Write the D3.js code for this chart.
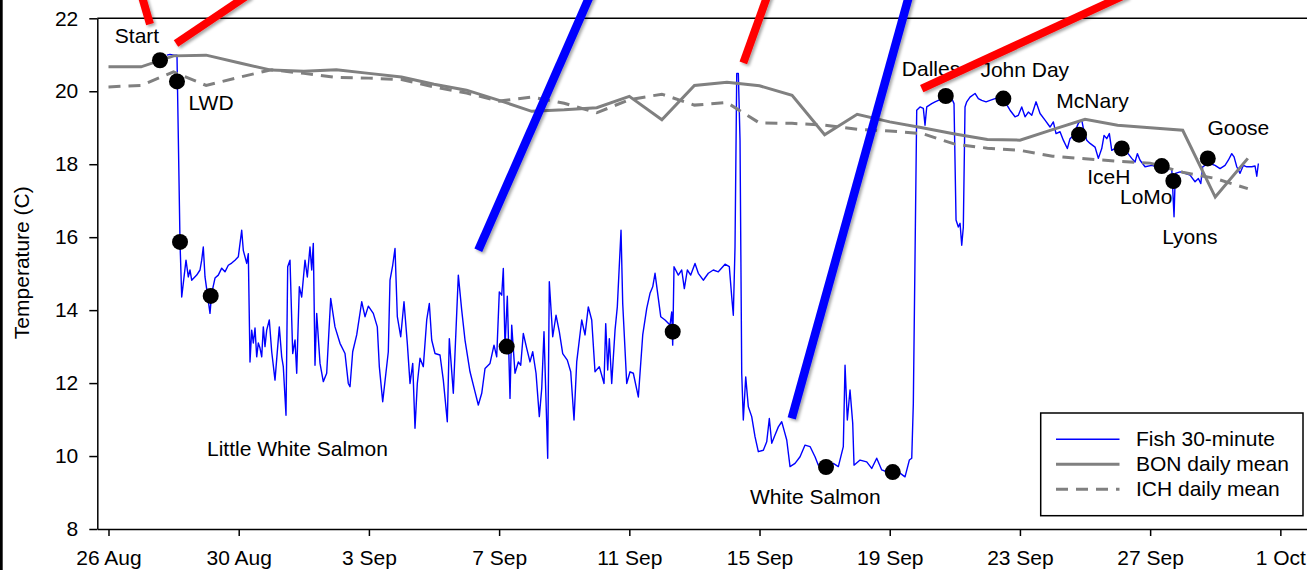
<!DOCTYPE html>
<html><head><meta charset="utf-8">
<script src="https://cdn.jsdelivr.net/npm/d3@7"></script>
<style>
body{margin:0;background:#fff;}
svg{display:block;}
text{font-family:"Liberation Sans",Arial,Helvetica,sans-serif;fill:#000;}
</style>
</head><body>
<svg id="chart" width="1307" height="570"></svg>
<script>
// ---------- DATA ----------
const dailyDates = ["2009-08-26","2009-08-27","2009-08-28","2009-08-29","2009-08-30","2009-08-31",
 "2009-09-01","2009-09-02","2009-09-03","2009-09-04","2009-09-05","2009-09-06","2009-09-07","2009-09-08",
 "2009-09-09","2009-09-10","2009-09-11","2009-09-12","2009-09-13","2009-09-14","2009-09-15","2009-09-16",
 "2009-09-17","2009-09-18","2009-09-19","2009-09-20","2009-09-21","2009-09-22","2009-09-23","2009-09-24",
 "2009-09-25","2009-09-26","2009-09-27","2009-09-28","2009-09-29","2009-09-30"];
const bonDaily = [20.67,20.67,20.97,20.99,20.78,20.58,20.55,20.59,20.49,20.39,20.19,20.03,19.75,19.45,19.49,19.55,
 19.86,19.22,20.16,20.25,20.15,19.89,18.81,19.37,19.16,19.00,18.83,18.68,18.66,18.95,19.23,19.07,19.00,18.93,17.10,18.16];
const ichDaily = [20.12,20.16,20.53,20.16,20.38,20.59,20.49,20.38,20.36,20.32,20.12,19.95,19.73,19.84,19.67,19.41,
 19.77,19.92,19.62,19.69,19.13,19.12,19.07,18.96,18.91,18.84,18.55,18.44,18.38,18.22,18.15,18.08,18.03,17.78,17.61,17.33];

// fish record: days since 26 Aug 00:00, temperature (C)
const fishDays = [1.797,1.889,2.012,2.104,2.197,2.249,2.381,2.452,2.504,2.556,2.710,2.811,2.863,2.912,2.965,3.035,3.118,3.170,3.272,3.373,
 3.478,3.579,3.680,3.785,3.886,3.988,4.092,4.141,4.246,4.295,4.347,4.399,4.449,4.501,4.553,4.602,4.654,4.707,4.756,4.808,
 4.860,4.940,5.014,5.115,5.247,5.321,5.370,5.453,5.505,5.576,5.659,5.730,5.782,5.862,5.935,6.037,6.108,6.190,6.243,6.292,
 6.344,6.396,6.498,6.599,6.703,6.826,6.958,7.112,7.266,7.367,7.419,7.502,7.625,7.779,7.880,7.982,8.135,8.258,8.320,8.424,
 8.596,8.648,8.731,8.802,8.873,8.977,9.078,9.180,9.263,9.346,9.416,9.487,9.570,9.671,9.776,9.856,9.929,10.031,10.184,10.286,
 10.408,10.470,10.593,10.747,10.851,10.952,11.106,11.260,11.361,11.466,11.567,11.720,11.843,11.926,12.006,12.080,12.129,12.181,12.252,12.335,
 12.387,12.488,12.590,12.664,12.743,12.848,12.949,13.032,13.134,13.235,13.309,13.379,13.493,13.542,13.647,13.748,13.849,13.954,14.095,14.200,
 14.301,14.384,14.538,14.639,14.740,14.845,14.946,15.078,15.223,15.275,15.336,15.386,15.459,15.561,15.631,15.745,15.797,15.920,16.022,16.123,
 16.277,16.412,16.535,16.636,16.719,16.790,16.891,16.965,17.097,17.250,17.303,17.333,17.373,17.505,17.610,17.690,17.782,17.886,18.018,18.120,
 18.273,18.427,18.580,18.734,18.940,19.072,19.146,19.195,19.247,19.300,19.349,19.401,19.453,19.502,19.576,19.656,19.760,19.861,19.963,20.117,
 20.221,20.301,20.375,20.476,20.578,20.682,20.753,20.836,20.937,21.091,21.245,21.398,21.552,21.705,21.807,22.065,22.267,22.421,22.574,22.627,
 22.697,22.780,22.863,22.903,23.088,23.293,23.447,23.600,23.754,23.908,24.111,24.316,24.470,24.602,24.676,24.725,24.777,24.829,24.931,25.032,
 25.084,25.137,25.290,25.392,25.545,25.751,25.905,25.975,26.037,26.108,26.160,26.212,26.261,26.313,26.366,26.467,26.621,26.722,26.827,26.959,
 27.081,27.235,27.389,27.542,27.696,27.849,27.951,28.055,28.157,28.258,28.363,28.495,28.618,28.771,28.925,29.026,29.109,29.232,29.333,29.456,
 29.539,29.640,29.794,29.899,29.969,30.052,30.154,30.307,30.409,30.513,30.584,30.667,30.747,30.820,30.922,31.075,31.281,31.435,31.536,31.607,
 31.690,31.843,32.049,32.203,32.357,32.510,32.664,32.734,32.774,32.919,33.072,33.226,33.380,33.481,33.555,33.616,33.687,33.840,33.994,34.147,
 34.301,34.402,34.507,34.578,34.661,34.762,34.864,34.968,35.122,35.223,35.276,35.325];
const fishTemps = [20.99,21.01,20.99,20.99,15.87,14.36,15.37,14.91,15.10,14.82,14.96,15.10,15.37,15.73,14.91,14.46,13.91,14.46,14.88,14.96,
 15.15,15.05,15.23,15.29,15.37,15.46,16.19,15.64,15.28,15.55,12.58,13.45,13.10,13.51,12.72,13.10,12.96,12.72,13.54,13.00,
 13.45,13.73,12.86,12.08,13.54,12.72,12.45,11.12,15.19,15.37,12.81,13.18,12.27,14.64,14.36,15.37,14.91,15.73,15.10,15.83,
 12.49,13.91,12.54,12.04,12.27,14.32,13.54,13.09,12.81,11.99,11.90,12.86,13.32,14.23,13.82,14.11,13.91,13.54,12.45,11.49,
 12.86,14.82,15.23,15.69,13.82,13.27,14.23,13.09,11.99,12.54,10.76,11.99,12.68,12.45,13.73,14.18,13.18,12.81,12.77,12.08,
 10.94,13.22,11.72,14.96,14.00,13.18,12.31,11.76,11.40,11.72,12.40,12.54,13.04,12.72,14.50,14.41,15.14,13.00,14.38,11.58,
 13.59,12.27,12.58,12.49,13.36,12.95,12.58,12.86,12.27,11.08,11.85,13.41,9.94,14.78,13.27,13.86,13.41,12.81,12.63,12.31,
 10.99,12.58,13.73,13.32,14.09,13.73,12.31,12.45,11.99,13.63,12.36,13.22,11.99,13.45,14.09,16.19,14.18,11.99,12.31,12.27,
 11.62,13.32,14.05,14.46,14.64,15.01,14.32,13.82,13.73,13.59,13.95,13.04,15.19,14.96,15.10,14.59,15.10,14.96,15.28,15.01,
 14.82,15.01,15.10,15.05,15.26,15.19,14.36,13.86,15.73,20.49,20.49,18.66,12.27,10.99,12.17,11.35,11.08,10.53,10.12,10.16,
 10.39,11.03,10.35,10.58,10.80,10.94,10.71,10.44,9.71,9.80,9.98,10.30,10.26,9.98,9.75,9.71,9.80,9.71,10.26,12.49,
 10.99,11.81,10.90,9.75,9.89,9.84,9.66,9.94,9.62,9.57,9.53,9.53,9.43,9.89,9.94,11.44,15.46,19.48,19.57,19.53,
 19.07,19.57,19.66,19.71,19.77,19.84,19.80,19.66,16.47,16.28,16.38,15.78,16.28,19.57,19.71,19.84,19.94,19.80,19.75,19.71,
 19.75,19.80,19.80,19.71,19.48,19.30,19.34,19.57,19.30,19.43,19.34,19.71,19.39,19.21,19.02,19.16,18.84,18.89,18.66,18.43,
 18.70,18.79,19.12,19.21,18.89,18.66,18.57,18.47,18.16,18.43,18.79,18.70,18.84,18.38,18.43,18.43,18.34,18.16,18.06,18.29,
 18.11,17.93,17.97,17.93,17.97,17.84,17.88,16.56,17.75,17.79,17.75,17.70,17.52,17.61,17.47,17.93,17.97,18.02,17.97,17.88,
 17.97,18.11,18.29,18.20,17.93,17.75,17.97,17.93,17.93,17.95,17.67,18.02];

// release / dam stations (black dots)
const stationDays  = [1.582,2.104,2.197,3.140,12.233,17.333,22.043,24.092,25.721,27.490,29.816,31.128,32.357,32.713,33.770];
const stationTemps = [20.85,20.27,15.87,14.39,13.00,13.41,9.70,9.56,19.87,19.80,18.81,18.43,17.95,17.54,18.16];

// text labels: text, day (centre), temperature (baseline)
const labelTexts = ["Start","LWD","Little White Salmon","White Salmon","Dalles","John Day","McNary","Goose","IceH","LoMo","Lyons"];
const labelDays  = [0.876,3.149,5.806,21.714,25.269,28.148,30.230,34.709,30.728,31.880,33.217];
const labelTemps = [21.32,19.49,10.00,8.68,20.41,20.39,19.55,18.79,17.47,16.92,15.81];

// overlay strokes: [day0, temp0, day1, temp1]
const redStrokes  = [[1.275,21.84,1.005,22.66],[2.074,21.31,4.323,22.66],[19.502,20.78,20.260,22.66],[24.983,20.07,31.281,22.66]];
const blueStrokes = [[11.361,15.64,14.810,22.66],[20.989,11.03,24.608,22.66]];

const xTickDates = ["2009-08-26","2009-08-30","2009-09-03","2009-09-07","2009-09-11","2009-09-15","2009-09-19","2009-09-23","2009-09-27","2009-10-01"];
const yTicks = [8,10,12,14,16,18,20,22];
const legendLabels = ["Fish 30-minute","BON daily mean","ICH daily mean"];

// ---------- CHART ----------
const FS = 21;
const svg = d3.select("#chart");
const parse = d3.timeParse("%Y-%m-%d");
const base = parse("2009-08-26");
const dayToDate = d => new Date(base.getTime() + d * 86400000);

const x = d3.scaleTime()
  .domain([dayToDate(-0.344), dayToDate(37)])
  .range([97.3, 1312.9]);
const y = d3.scaleLinear().domain([8, 22]).range([529, 18.3]);

const defs = svg.append("defs");
const f = defs.append("filter").attr("id","shadow").attr("x","-20%").attr("y","-20%").attr("width","140%").attr("height","140%");
f.append("feDropShadow").attr("dx",2).attr("dy",2).attr("stdDeviation",1.6).attr("flood-color","#000").attr("flood-opacity",0.35);

// left edge bar
svg.append("rect").attr("x",0).attr("y",0).attr("width",2.7).attr("height",570).attr("fill","#000");

// axes
const gx = svg.append("g").attr("transform","translate(0,529)")
  .call(d3.axisBottom(x).tickValues(xTickDates.map(parse)).tickFormat(d3.timeFormat("%-d %b")).tickSize(7).tickSizeOuter(0));
gx.selectAll("text").attr("y",21.5).attr("font-size",FS).attr("font-family","Liberation Sans, Arial, sans-serif").attr("fill","#000");
const gy = svg.append("g").attr("transform","translate(97.3,0)")
  .call(d3.axisLeft(y).tickValues(yTicks).tickSize(8).tickPadding(11).tickSizeOuter(0));
gy.selectAll("text").attr("font-size",FS).attr("font-family","Liberation Sans, Arial, sans-serif").attr("fill","#000");
svg.selectAll(".domain, .tick line").attr("stroke","#000").attr("stroke-width",1.5);

// top frame line
svg.append("line").attr("x1",x.range()[0]).attr("x2",x.range()[1]).attr("y1",y(22)).attr("y2",y(22))
  .attr("stroke","#000").attr("stroke-width",1.5);

// y label
svg.append("text").attr("transform","translate(29," + (y(15.3)) + ") rotate(-90)")
  .attr("text-anchor","middle").attr("font-size",FS).text("Temperature (C)");

// fish line
const fish = fishDays.map((d,i) => ({t: dayToDate(d), v: fishTemps[i]}));
const line = d3.line().x(d => x(d.t)).y(d => y(d.v));
svg.append("path").datum(fish).attr("d", line).attr("fill","none").attr("stroke","#0000ff").attr("stroke-width",1.4).attr("stroke-linejoin","round");

// daily means
const bon = dailyDates.map((s,i) => ({t: parse(s), v: bonDaily[i]}));
const ich = dailyDates.map((s,i) => ({t: parse(s), v: ichDaily[i]}));
svg.append("path").datum(ich).attr("d", line).attr("fill","none").attr("stroke","#808080").attr("stroke-width",3).attr("stroke-dasharray","12,8");
svg.append("path").datum(bon).attr("d", line).attr("fill","none").attr("stroke","#808080").attr("stroke-width",3);

// station dots
svg.append("g").selectAll("circle").data(stationDays).join("circle")
  .attr("cx", d => x(dayToDate(d))).attr("cy", (d,i) => y(stationTemps[i])).attr("r", 8).attr("fill","#000");

// labels
svg.append("g").selectAll("text").data(labelTexts).join("text")
  .attr("x", (d,i) => x(dayToDate(labelDays[i]))).attr("y", (d,i) => y(labelTemps[i]))
  .attr("text-anchor","middle").attr("font-size",FS).text(d => d);

// legend
const lg = svg.append("g");
lg.append("rect").attr("x",1040.7).attr("y",413).attr("width",262.3).attr("height",102.7).attr("fill","#fff").attr("stroke","#000").attr("stroke-width",1.5);
const lstyles = [{c:"#0000ff",w:1.4,da:null},{c:"#808080",w:3,da:null},{c:"#808080",w:3,da:"12,8"}];
legendLabels.forEach((t,i) => {
  const yy = 439.3 + i*25;
  lg.append("line").attr("x1",1056).attr("x2",1119.5).attr("y1",yy).attr("y2",yy)
    .attr("stroke",lstyles[i].c).attr("stroke-width",lstyles[i].w).attr("stroke-dasharray",lstyles[i].da);
  lg.append("text").attr("x",1136).attr("y",yy+7).attr("font-size",FS).text(t);
});

// overlay strokes
const ov = svg.append("g").attr("filter","url(#shadow)");
ov.selectAll("line.r").data(redStrokes).join("line").attr("class","r")
  .attr("x1", d => x(dayToDate(d[0]))).attr("y1", d => y(d[1])).attr("x2", d => x(dayToDate(d[2]))).attr("y2", d => y(d[3]))
  .attr("stroke","#ff0000").attr("stroke-width",8);
ov.selectAll("line.b").data(blueStrokes).join("line").attr("class","b")
  .attr("x1", d => x(dayToDate(d[0]))).attr("y1", d => y(d[1])).attr("x2", d => x(dayToDate(d[2]))).attr("y2", d => y(d[3]))
  .attr("stroke","#0000ff").attr("stroke-width",8.5);
</script>
</body></html>
